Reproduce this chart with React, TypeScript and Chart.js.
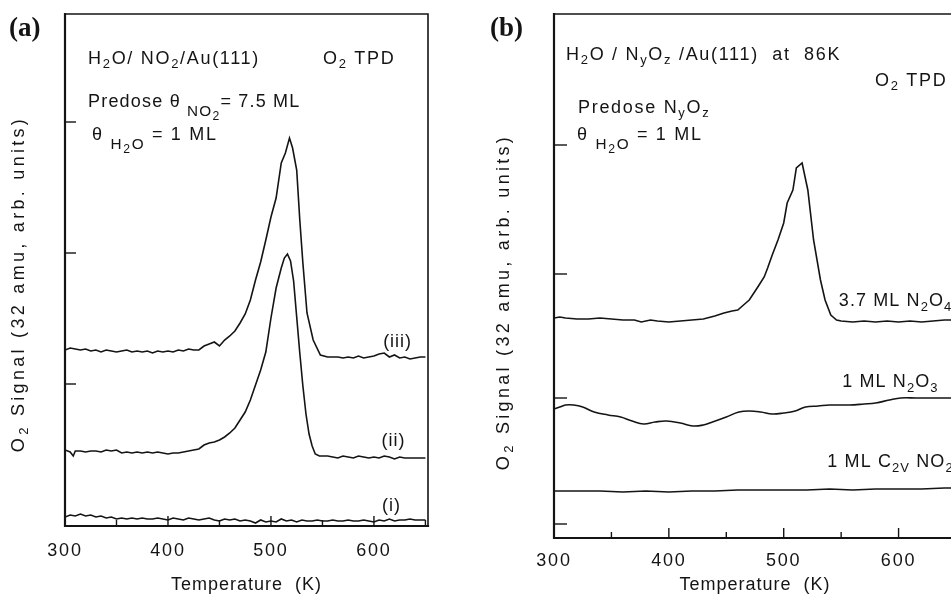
import React, { useEffect, useRef } from "react";
import { Chart, registerables } from "chart.js";

Chart.register(...registerables);

const FONT = '"Liberation Sans", Arial, Helvetica, sans-serif';
const SERIF = '"Liberation Serif", "Times New Roman", serif';
const INK = "#141414";

// ---------------- data ----------------
const xTickLabels = [300, 400, 500, 600];
const xMajorTicks = [400, 500, 600];
const xMinorTicks = [350, 450, 550, 650];
const yTicksA = [142, 273, 404];
const yTicksB = [14, 140, 264, 393];

// Panel (a): curve (iii)
const tempAiii = [300,305,310,315,320,325,330,335,340,345,350,355,360,365,370,375,380,385,390,395,400,405,410,415,420,425,430,435,440,445,450,455,460,465,470,475,480,485,490,495,500,505,510,514,518,521,525,528,531,535,541,548,555,560,565,570,575,580,585,590,595,600,605,610,615,620,625,630,635,640,645,650];
const sigAiii = [176,178,177,176,177,175,176,174,176,175,174,175,176,174,175,174,175,173,175,174,175,174,176,175,177,176,176,180,182,184,180,186,190,195,203,212,226,246,264,286,309,328,363,373,388,378,356,306,263,213,186,171,169,169,169,168,169,168,170,168,169,170,172,173,169,171,168,169,167,168,169,169];

// Panel (a): curve (ii)
const tempAii = [300,305,308,310,315,320,325,330,335,340,345,350,355,360,365,370,375,380,385,390,395,400,405,410,415,420,425,430,435,440,445,450,455,460,465,470,475,480,485,490,495,500,505,510,513,516,519,522,525,528,531,534,537,540,543,547,550,555,560,565,570,575,580,585,590,595,600,605,610,615,620,625,630,635,640,645,650];
const sigAii = [76,74,70,75,75,74,75,75,74,76,75,76,73,74,73,74,73,74,73,74,73,72,73,73,74,75,76,77,81,83,84,86,89,93,98,106,114,126,141,156,174,208,238,258,268,272,265,245,209,173,140,112,92,80,72,70,70,70,69,68,70,69,68,70,69,68,69,68,70,69,67,69,68,68,68,68,68];

// Panel (a): curve (i)
const tempAi = [300,305,310,315,320,325,330,335,340,345,350,355,360,365,370,375,380,385,390,395,400,405,410,415,420,425,430,435,440,445,450,455,460,465,470,475,480,485,490,495,500,505,510,515,520,525,530,535,540,545,550,555,560,565,570,575,580,585,590,595,600,605,610,615,620,625,630,635,640,645,650];
const sigAi = [9,11,10,12,10,11,9,10,8,9,7,8,7,8,7,8,7,7,8,7,6,8,7,6,8,7,6,7,8,6,5,7,6,7,5,6,5,3,6,4,5,4,7,5,6,4,6,5,5,6,5,5,6,5,5,6,5,5,6,5,4,6,5,7,5,6,6,7,6,6,6];

// Panel (b): 3.7 ML N2O4
const tempBn2o4 = [300,305,310,320,330,340,350,360,370,376,384,390,400,410,420,430,440,448,455,460,465,470,474,478,483,486,490,495,500,503,508,511,516,521,526,532,536,541,546,550,560,570,580,590,600,610,620,630,640,650];
const sigBn2o4 = [220,221,220,219,219,220,219,218,218,216,218,217,216,217,218,219,222,225,227,228,233,238,245,252,261,270,283,298,315,335,348,370,375,348,298,258,238,223,218,217,216,217,216,217,216,217,216,217,218,218];

// Panel (b): 1 ML N2O3
const tempBn2o3 = [300,305,310,317,325,335,347,358,368,378,388,398,410,421,430,438,450,461,470,480,490,500,510,519,530,540,557,570,580,592,602,615,630,650];
const sigBn2o3 = [129,131,133,133,131,126,123,121,117,114,116,117,115,112,113,116,121,126,127,126,124,125,127,131,132,133,133,134,135,138,140,140,140,140];

// Panel (b): 1 ML C2v NO2
const tempBno2 = [300,320,340,360,380,400,420,440,460,480,500,520,540,560,580,600,620,640,650];
const sigBno2 = [47,47,47,46,47,46,47,47,48,48,48,48,49,48,49,49,49,50,50];

// ---------------- helpers ----------------
type Seg = { t: string; lv: number };
const S = (t: string, lv = 0): Seg => ({ t, lv });
const LEVELS = [
  { k: 1, dy: 0 },
  { k: 0.72, dy: 0.24 },
  { k: 0.85, dy: 0.5 },
  { k: 0.68, dy: 0.74 },
];

type Ann = {
  segs: Seg[];
  at: "area" | "data";
  x: number;
  y: number;
  align?: "left" | "center";
  size?: number;
  spacing?: number;
};

function setFont(ctx: CanvasRenderingContext2D, size: number, lv: number) {
  ctx.font = `${(size * LEVELS[lv].k).toFixed(1)}px ${FONT}`;
}

function richWidth(ctx: CanvasRenderingContext2D, segs: Seg[], size: number) {
  let w = 0;
  for (const s of segs) {
    setFont(ctx, size, s.lv);
    w += ctx.measureText(s.t).width;
  }
  return w;
}

function drawRich(
  ctx: CanvasRenderingContext2D,
  segs: Seg[],
  x: number,
  y: number,
  size: number,
  align: "left" | "center"
) {
  let cx = align === "center" ? x - richWidth(ctx, segs, size) / 2 : x;
  ctx.textAlign = "left";
  ctx.textBaseline = "alphabetic";
  for (const s of segs) {
    setFont(ctx, size, s.lv);
    ctx.fillText(s.t, cx, y + LEVELS[s.lv].dy * size);
    cx += ctx.measureText(s.t).width;
  }
}

type Decor = {
  yTicks: number[];
  yTickLen: number;
  anns: Ann[];
  letter: string;
  letterDx: number;
  yTitleDx: number;
  yTitleDy: number;
  xTitleBaseline: number;
};

function makeDecor(d: Decor) {
  return {
    id: "decor",
    beforeDraw(chart: any) {
      (chart.ctx as any).letterSpacing = "1.8px";
    },
    afterDraw(chart: any) {
      const ctx: CanvasRenderingContext2D = chart.ctx;
      const a = chart.chartArea;
      const xs = chart.scales.x;
      const ys = chart.scales.y;
      ctx.save();
      (ctx as any).letterSpacing = "0px";
      ctx.strokeStyle = INK;
      ctx.fillStyle = INK;
      ctx.lineCap = "square";
      // frame
      ctx.lineWidth = 2.2;
      ctx.beginPath();
      ctx.moveTo(a.left, a.top);
      ctx.lineTo(a.left, a.bottom);
      ctx.lineTo(a.right, a.bottom);
      ctx.stroke();
      ctx.lineWidth = 1.6;
      ctx.beginPath();
      ctx.moveTo(a.left, a.top);
      ctx.lineTo(a.right, a.top);
      ctx.lineTo(a.right, a.bottom);
      ctx.stroke();
      // x ticks (inward)
      ctx.lineWidth = 1.4;
      ctx.lineCap = "butt";
      for (const v of xMajorTicks) {
        const px = xs.getPixelForValue(v);
        ctx.beginPath();
        ctx.moveTo(px, a.bottom);
        ctx.lineTo(px, a.bottom - 10);
        ctx.stroke();
      }
      for (const v of xMinorTicks) {
        const px = xs.getPixelForValue(v);
        ctx.beginPath();
        ctx.moveTo(px, a.bottom);
        ctx.lineTo(px, a.bottom - 6);
        ctx.stroke();
      }
      // y ticks (inward)
      for (const v of d.yTicks) {
        const py = ys.getPixelForValue(v);
        ctx.beginPath();
        ctx.moveTo(a.left, py);
        ctx.lineTo(a.left + d.yTickLen, py);
        ctx.stroke();
      }
      // annotations
      for (const an of d.anns) {
        const size = an.size ?? 18;
        (ctx as any).letterSpacing = `${an.spacing ?? 1.7}px`;
        let x: number;
        let y: number;
        if (an.at === "area") {
          x = a.left + an.x;
          y = a.top + an.y;
        } else {
          x = xs.getPixelForValue(an.x);
          y = ys.getPixelForValue(an.y) + size * 0.35;
        }
        drawRich(ctx, an.segs, x, y, size, an.align ?? "left");
      }
      // y axis title (rotated)
      (ctx as any).letterSpacing = "3.3px";
      const ySegs = [S("O"), S("2", 1), S(" Signal (32 amu, arb. units)")];
      ctx.save();
      ctx.translate(a.left + d.yTitleDx, a.top + d.yTitleDy);
      ctx.rotate(-Math.PI / 2);
      drawRich(ctx, ySegs, 0, 6, 18, "center");
      ctx.restore();
      // x axis title
      (ctx as any).letterSpacing = "1px";
      drawRich(
        ctx,
        [S("Temperature  (K)")],
        (a.left + a.right) / 2,
        a.bottom + d.xTitleBaseline,
        18,
        "center"
      );
      // panel letter
      (ctx as any).letterSpacing = "0px";
      ctx.font = `bold 27px ${SERIF}`;
      ctx.textAlign = "left";
      ctx.textBaseline = "alphabetic";
      ctx.fillText(d.letter, a.left + d.letterDx, a.top + 22);
      ctx.restore();
    },
  };
}

function line(temps: number[], sig: number[], tension = 0) {
  return {
    data: temps.map((t, i) => ({ x: t, y: sig[i] })),
    borderColor: INK,
    borderWidth: 1.6,
    pointRadius: 0,
    fill: false,
    tension,
  };
}

function makeChart(
  canvas: HTMLCanvasElement,
  datasets: any[],
  xRange: [number, number],
  yRange: [number, number],
  yWidth: number,
  xHeight: number,
  padRight: number,
  tickPad: number,
  decor: Decor
) {
  return new Chart(canvas, {
    type: "line",
    data: { datasets },
    options: {
      responsive: false,
      animation: false,
      events: [],
      layout: { padding: { left: 0, right: padRight, top: 14, bottom: 0 } },
      plugins: { legend: { display: false }, tooltip: { enabled: false } },
      scales: {
        x: {
          type: "linear",
          min: xRange[0],
          max: xRange[1],
          afterBuildTicks: (s: any) => {
            s.ticks = xTickLabels.map((v) => ({ value: v }));
          },
          afterFit: (s: any) => {
            s.height = xHeight;
          },
          grid: { display: false, drawTicks: false },
          border: { display: false },
          ticks: {
            color: INK,
            font: { family: FONT, size: 18 },
            padding: tickPad,
            maxRotation: 0,
            autoSkip: false,
          },
        },
        y: {
          type: "linear",
          min: yRange[0],
          max: yRange[1],
          afterFit: (s: any) => {
            s.width = yWidth;
          },
          grid: { display: false, drawTicks: false },
          border: { display: false },
          ticks: { display: false },
        },
      },
    },
    plugins: [makeDecor(decor) as any],
  });
}

export default function App() {
  const refA = useRef<HTMLCanvasElement>(null);
  const refB = useRef<HTMLCanvasElement>(null);

  useEffect(() => {
    const annA: Ann[] = [
      { at: "area", x: 23, y: 50, segs: [S("H"), S("2", 1), S("O/ NO"), S("2", 1), S("/Au(111)")] },
      { at: "area", x: 258, y: 50, segs: [S("O"), S("2", 1), S(" TPD")] },
      { at: "area", x: 23, y: 93, spacing: 1.2, segs: [S("Predose θ "), S("NO", 2), S("2", 3), S("= 7.5 ML")] },
      { at: "area", x: 27, y: 126, segs: [S("θ "), S("H", 2), S("2", 3), S("O", 2), S(" = 1 ML")] },
      { at: "data", x: 623, y: 185, align: "center", spacing: 1, segs: [S("(iii)")] },
      { at: "data", x: 619, y: 86, align: "center", spacing: 1, segs: [S("(ii)")] },
      { at: "data", x: 617, y: 21, align: "center", spacing: 1, segs: [S("(i)")] },
    ];
    const annB: Ann[] = [
      {
        at: "area",
        x: 12,
        y: 46,
        segs: [S("H"), S("2", 1), S("O / N"), S("y", 1), S("O"), S("z", 1), S(" /Au(111)  at  86K")],
      },
      { at: "area", x: 321, y: 72, segs: [S("O"), S("2", 1), S(" TPD")] },
      { at: "area", x: 24, y: 99, segs: [S("Predose N"), S("y", 1), S("O"), S("z", 1)] },
      { at: "area", x: 23, y: 126, segs: [S("θ "), S("H", 2), S("2", 3), S("O", 2), S(" = 1 ML")] },
      { at: "data", x: 548, y: 238, spacing: 1.1, segs: [S("3.7 ML N"), S("2", 1), S("O"), S("4", 1)] },
      { at: "data", x: 551, y: 157, spacing: 1.1, segs: [S("1 ML N"), S("2", 1), S("O"), S("3", 1)] },
      { at: "data", x: 538, y: 77, spacing: 1.1, segs: [S("1 ML C"), S("2V", 1), S(" NO"), S("2", 1)] },
    ];

    const chartA = makeChart(
      refA.current!,
      [line(tempAiii, sigAiii), line(tempAii, sigAii), line(tempAi, sigAi)],
      [300, 652.5],
      [0, 512],
      65,
      76,
      42,
      14,
      {
        yTicks: yTicksA,
        yTickLen: 11,
        anns: annA,
        letter: "(a)",
        letterDx: -56,
        yTitleDx: -47,
        yTitleDy: 270,
        xTitleBaseline: 64,
      }
    );
    const chartB = makeChart(
      refB.current!,
      [line(tempBn2o4, sigBn2o4), line(tempBn2o3, sigBn2o3, 0.4), line(tempBno2, sigBno2)],
      [300, 650],
      [0, 524],
      74,
      64,
      14,
      12,
      {
        yTicks: yTicksB,
        yTickLen: 13,
        anns: annB,
        letter: "(b)",
        letterDx: -64,
        yTitleDx: -51,
        yTitleDy: 288,
        xTitleBaseline: 52,
      }
    );
    return () => {
      chartA.destroy();
      chartB.destroy();
    };
  }, []);

  return (
    <div
      style={{
        position: "fixed",
        left: 0,
        top: 0,
        width: 951,
        height: 602,
        overflow: "hidden",
        background: "#fff",
      }}
    >
      <canvas
        ref={refA}
        width={470}
        height={602}
        style={{ position: "absolute", left: 0, top: 0, width: 470, height: 602 }}
      />
      <canvas
        ref={refB}
        width={490}
        height={602}
        style={{ position: "absolute", left: 480, top: 0, width: 490, height: 602 }}
      />
    </div>
  );
}
